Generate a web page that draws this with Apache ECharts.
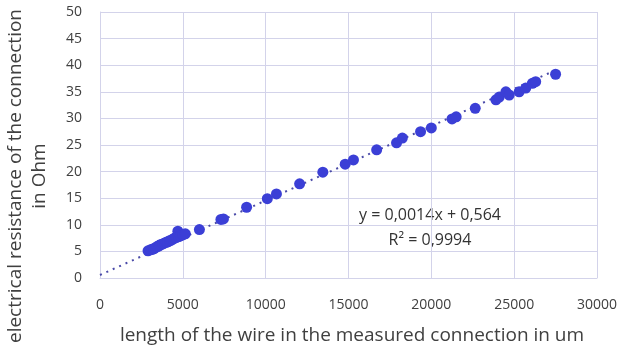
<!DOCTYPE html>
<html>
<head>
<meta charset="utf-8">
<script src="https://cdn.jsdelivr.net/npm/echarts@6/dist/echarts.min.js"></script>
<style>
  html, body { margin: 0; padding: 0; background: #fff; }
  #chart { width: 623px; height: 346px; }
</style>
</head>
<body>
<div id="chart"></div>
<script>
// wire length (um) and measured resistance (Ohm)
var wireLength = [
  2900, 3050, 3150, 3250, 3350, 3450, 3550, 3600, 3700, 3800, 3900, 4000,
  4100, 4200, 4300, 4400, 4500, 4600, 4700, 4750, 4850, 5000, 5150,
  6000, 7300, 7450, 8850, 10100, 10650, 12050, 13450, 14800, 15300,
  16700, 17900, 18250, 19350, 20000, 21250, 21500, 22650, 23900, 24100,
  24500, 24700, 25300, 25700, 26100, 26300, 27500
];
var resistance = [
  5.1, 5.3, 5.4, 5.5, 5.7, 5.9, 6.0, 6.2, 6.3, 6.4, 6.6, 6.7,
  6.8, 7.0, 7.1, 7.3, 7.5, 7.6, 8.8, 7.8, 7.9, 8.1, 8.3,
  9.1, 11.0, 11.1, 13.3, 14.9, 15.8, 17.7, 19.9, 21.4, 22.2,
  24.1, 25.4, 26.3, 27.5, 28.2, 29.9, 30.3, 31.9, 33.5, 34.0,
  35.0, 34.4, 35.0, 35.7, 36.6, 36.9, 38.3
];
var slope = 0.0014;
var intercept = 0.564;
var eqText = "y = 0,0014x + 0,564";
var r2Text = "R² = 0,9994";
var yTitle = "electrical resistance of the connection\nin Ohm";
var xTitle = "length of the wire in the measured connection in um";

var points = [];
for (var i = 0; i < wireLength.length; i++) {
  points.push([wireLength[i], resistance[i]]);
}
var xMax = Math.max.apply(null, wireLength);
var trend = [[0, intercept], [xMax, slope * xMax + intercept]];

var gridColor = "#d3d3ea";
var textColor = "#404040";
var font = "Open Sans";

var myChart = echarts.init(document.getElementById("chart"));
myChart.setOption({
  animation: false,
  grid: { left: 100, right: 26, top: 12, bottom: 68, outerBoundsMode: "none", containLabel: false },
  xAxis: {
    type: "value",
    min: 0,
    max: 30000,
    interval: 5000,
    name: xTitle,
    nameLocation: "middle",
    nameGap: 48,
    nameTextStyle: { color: textColor, fontSize: 19, fontFamily: font, padding: [0, 0, 0, 7] },
    axisLine: { show: true, lineStyle: { color: gridColor } },
    axisTick: { show: false },
    axisLabel: {
      color: textColor, fontSize: 14, fontFamily: font, margin: 20,
      formatter: function (v) { return String(v); }
    },
    splitLine: { show: true, lineStyle: { color: gridColor, width: 1 } }
  },
  yAxis: {
    type: "value",
    min: 0,
    max: 50,
    interval: 5,
    axisLine: { show: true, lineStyle: { color: gridColor } },
    axisTick: { show: false },
    axisLabel: { color: textColor, fontSize: 14, fontFamily: font, margin: 18 },
    splitLine: { show: true, lineStyle: { color: gridColor, width: 1 } }
  },
  graphic: [
    {
      type: "text",
      x: 28,
      y: 176,
      rotation: Math.PI / 2,
      style: {
        text: yTitle, fill: textColor, font: "19px " + font, lineHeight: 24,
        align: "center", verticalAlign: "middle"
      }
    },
    {
      type: "text",
      x: 430,
      y: 215,
      style: { text: eqText, fill: "#333", font: "16px " + font, align: "center", verticalAlign: "middle" }
    },
    {
      type: "text",
      x: 430,
      y: 240,
      style: { text: r2Text, fill: "#333", font: "16px " + font, align: "center", verticalAlign: "middle" }
    }
  ],
  series: [
    {
      type: "line",
      data: trend,
      symbol: "none",
      lineStyle: { color: "#4a4aa8", width: 2, type: [2, 5] },
      z: 1
    },
    {
      type: "scatter",
      data: points,
      symbolSize: 11,
      itemStyle: { color: "#3b3fd6", opacity: 1 },
      z: 2
    }
  ]
});
</script>
</body>
</html>
